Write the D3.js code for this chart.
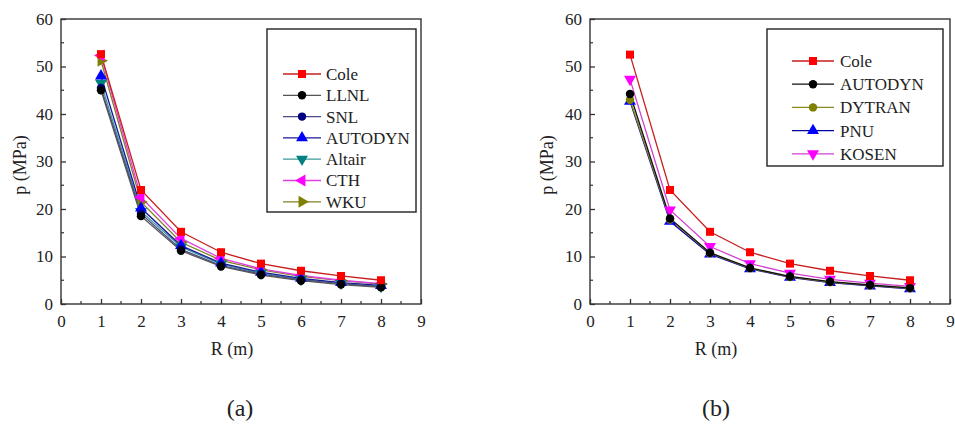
<!DOCTYPE html>
<html>
<head>
<meta charset="utf-8">
<script src="https://cdn.jsdelivr.net/npm/d3@7"></script>
<style>
  body { margin: 0; background: #fff; }
  svg { display: block; }
  text { font-family: "Liberation Serif", "Times New Roman", serif; fill: #222; }
</style>
</head>
<body>
<svg id="chart" width="955" height="424"></svg>
<script>
// distances R (m)
const R = [1, 2, 3, 4, 5, 6, 7, 8];
const xTicks = [0, 1, 2, 3, 4, 5, 6, 7, 8, 9];
const yTicks = [0, 10, 20, 30, 40, 50, 60];

// panel (a) pressures p (MPa)
const coleA    = [52.6, 24.0, 15.2, 10.9, 8.5, 7.0, 5.9, 5.0];
const llnlA    = [45.0, 18.5, 11.2, 7.9, 6.1, 4.9, 4.1, 3.5];
const snlA     = [45.5, 19.0, 11.5, 8.1, 6.3, 5.1, 4.3, 3.6];
const autodynA = [48.0, 20.2, 12.3, 8.6, 6.7, 5.4, 4.5, 3.9];
const altairA  = [46.5, 19.5, 12.0, 8.4, 6.5, 5.2, 4.4, 3.7];
const cthA     = [52.3, 22.5, 13.8, 9.6, 7.4, 6.0, 5.0, 4.3];
const wkuA     = [51.2, 21.5, 13.0, 9.2, 7.2, 5.8, 4.9, 4.2];

// panel (b) pressures p (MPa)
const coleB    = [52.5, 24.0, 15.2, 10.9, 8.5, 7.0, 5.9, 5.0];
const autodynB = [44.2, 18.0, 10.8, 7.6, 5.8, 4.7, 4.0, 3.4];
const dytranB  = [43.0, 17.8, 10.7, 7.5, 5.7, 4.6, 3.9, 3.3];
const pnuB     = [42.7, 17.4, 10.5, 7.4, 5.6, 4.5, 3.8, 3.2];
const kosenB   = [47.3, 19.8, 12.1, 8.5, 6.5, 5.2, 4.4, 3.7];

const seriesA = [
  { name: 'Cole',    values: coleA,    color: '#ff0000', line: '#c81e1e', shape: 'square' },
  { name: 'LLNL',    values: llnlA,    color: '#000000', line: '#555555', shape: 'circle' },
  { name: 'SNL',     values: snlA,     color: '#000080', line: '#4a4a8a', shape: 'circle' },
  { name: 'AUTODYN', values: autodynA, color: '#0000ff', line: '#1a1a9a', shape: 'up' },
  { name: 'Altair',  values: altairA,  color: '#008080', line: '#3a9a9a', shape: 'down' },
  { name: 'CTH',     values: cthA,     color: '#ff00ff', line: '#e040e0', shape: 'left' },
  { name: 'WKU',     values: wkuA,     color: '#808000', line: '#808020', shape: 'right' }
];
// draw order so the lower-legend series sit under Cole
const seriesB = [
  { name: 'Cole',    values: coleB,    color: '#ff0000', line: '#c81e1e', shape: 'square' },
  { name: 'AUTODYN', values: autodynB, color: '#000000', line: '#111111', shape: 'circle' },
  { name: 'DYTRAN',  values: dytranB,  color: '#808000', line: '#8a8a20', shape: 'circle' },
  { name: 'PNU',     values: pnuB,     color: '#0000ff', line: '#0000a0', shape: 'up' },
  { name: 'KOSEN',   values: kosenB,   color: '#ff00ff', line: '#d040d0', shape: 'down' }
];

const svg = d3.select('#chart');

function symbolPath(shape) {
  if (shape === 'square') return { d: d3.symbol(d3.symbolSquare, 64)(), rot: 0 };
  if (shape === 'circle') return { d: d3.symbol(d3.symbolCircle, 56)(), rot: 0 };
  const tri = d3.symbol(d3.symbolTriangle, 62)();
  const rot = { up: 0, down: 180, left: -90, right: 90 }[shape];
  return { d: tri, rot: rot };
}

function drawPanel(opts) {
  const g = svg.append('g');
  const x = d3.scaleLinear().domain([0, 9]).range([opts.left, opts.left + 360]);
  const y = d3.scaleLinear().domain([0, 60]).range([304, 19]);

  // frame
  g.append('rect')
    .attr('x', x(0)).attr('y', y(60))
    .attr('width', x(9) - x(0)).attr('height', y(0) - y(60))
    .attr('fill', 'none').attr('stroke', '#333').attr('stroke-width', 1.4);

  // axes with inward ticks
  const xAxis = d3.axisBottom(x).tickValues(xTicks).tickSize(-5).tickPadding(10).tickFormat(d3.format('d'));
  const yAxis = d3.axisLeft(y).tickValues(yTicks).tickSize(-5).tickPadding(8).tickFormat(d3.format('d'));
  const gx = g.append('g').attr('transform', `translate(0,${y(0)})`).call(xAxis);
  const gy = g.append('g').attr('transform', `translate(${x(0)},0)`).call(yAxis);
  [gx, gy].forEach(a => {
    a.select('.domain').remove();
    a.selectAll('line').attr('stroke', '#333').attr('stroke-width', 1.3);
    a.selectAll('text').attr('font-size', 17).attr('fill', '#222')
      .style('font-family', '"Liberation Serif", serif');
  });
  gx.selectAll('text').attr('dy', '0.75em');
  // minor ticks
  g.append('g').selectAll('line')
    .data(d3.range(0.5, 9, 1))
    .join('line')
    .attr('x1', d => x(d)).attr('x2', d => x(d))
    .attr('y1', y(0)).attr('y2', y(0) - 3)
    .attr('stroke', '#333').attr('stroke-width', 1.2);
  g.append('g').selectAll('line')
    .data(d3.range(5, 60, 10))
    .join('line')
    .attr('y1', d => y(d)).attr('y2', d => y(d))
    .attr('x1', x(0)).attr('x2', x(0) + 3)
    .attr('stroke', '#333').attr('stroke-width', 1.2);

  // axis labels
  g.append('text')
    .attr('transform', `translate(${opts.ylabX},165) rotate(-90)`)
    .attr('text-anchor', 'middle').attr('font-size', 18)
    .text('p (MPa)');
  g.append('text')
    .attr('x', opts.xlabX).attr('y', 355)
    .attr('text-anchor', 'middle').attr('font-size', 18)
    .text('R (m)');
  g.append('text')
    .attr('x', opts.tagX).attr('y', 416)
    .attr('text-anchor', 'middle').attr('font-size', 24)
    .text(opts.tag);

  // series lines and markers (reverse so first series ends up on top)
  const line = d3.line().x((d, i) => x(R[i])).y(d => y(d));
  const drawOrder = opts.series.slice().reverse();
  drawOrder.forEach(s => {
    g.append('path')
      .datum(s.values)
      .attr('d', line)
      .attr('fill', 'none')
      .attr('stroke', s.line)
      .attr('stroke-width', 1.3);
  });
  drawOrder.forEach(s => {
    const sym = symbolPath(s.shape);
    g.append('g').selectAll('path')
      .data(s.values)
      .join('path')
      .attr('d', sym.d)
      .attr('transform', (d, i) => `translate(${x(R[i])},${y(d)}) rotate(${sym.rot})`)
      .attr('fill', s.color);
  });

  // legend
  const lg = opts.legend;
  g.append('rect')
    .attr('x', lg.x).attr('y', lg.y).attr('width', lg.w).attr('height', lg.h)
    .attr('fill', '#fff').attr('stroke', '#222').attr('stroke-width', 1.4);
  opts.series.forEach((s, i) => {
    const yy = lg.first + i * lg.step;
    g.append('line')
      .attr('x1', lg.lx1).attr('x2', lg.lx2).attr('y1', yy).attr('y2', yy)
      .attr('stroke', s.line).attr('stroke-width', 1.3);
    const sym = symbolPath(s.shape);
    g.append('path')
      .attr('d', sym.d)
      .attr('transform', `translate(${(lg.lx1 + lg.lx2) / 2},${yy}) rotate(${sym.rot})`)
      .attr('fill', s.color);
    g.append('text')
      .attr('x', lg.tx).attr('y', yy).attr('dy', '0.35em')
      .attr('font-size', 17)
      .text(s.name);
  });
}

drawPanel({
  left: 61, series: seriesA, tag: '(a)', ylabX: 26, xlabX: 232, tagX: 240,
  legend: { x: 267, y: 29, w: 149, h: 183, first: 74, step: 21.3, lx1: 283, lx2: 321, tx: 326 }
});
drawPanel({
  left: 590, series: seriesB, tag: '(b)', ylabX: 553, xlabX: 716, tagX: 716,
  legend: { x: 767, y: 29, w: 176, h: 137, first: 61, step: 23.2, lx1: 792, lx2: 834, tx: 840 }
});
</script>
</body>
</html>
